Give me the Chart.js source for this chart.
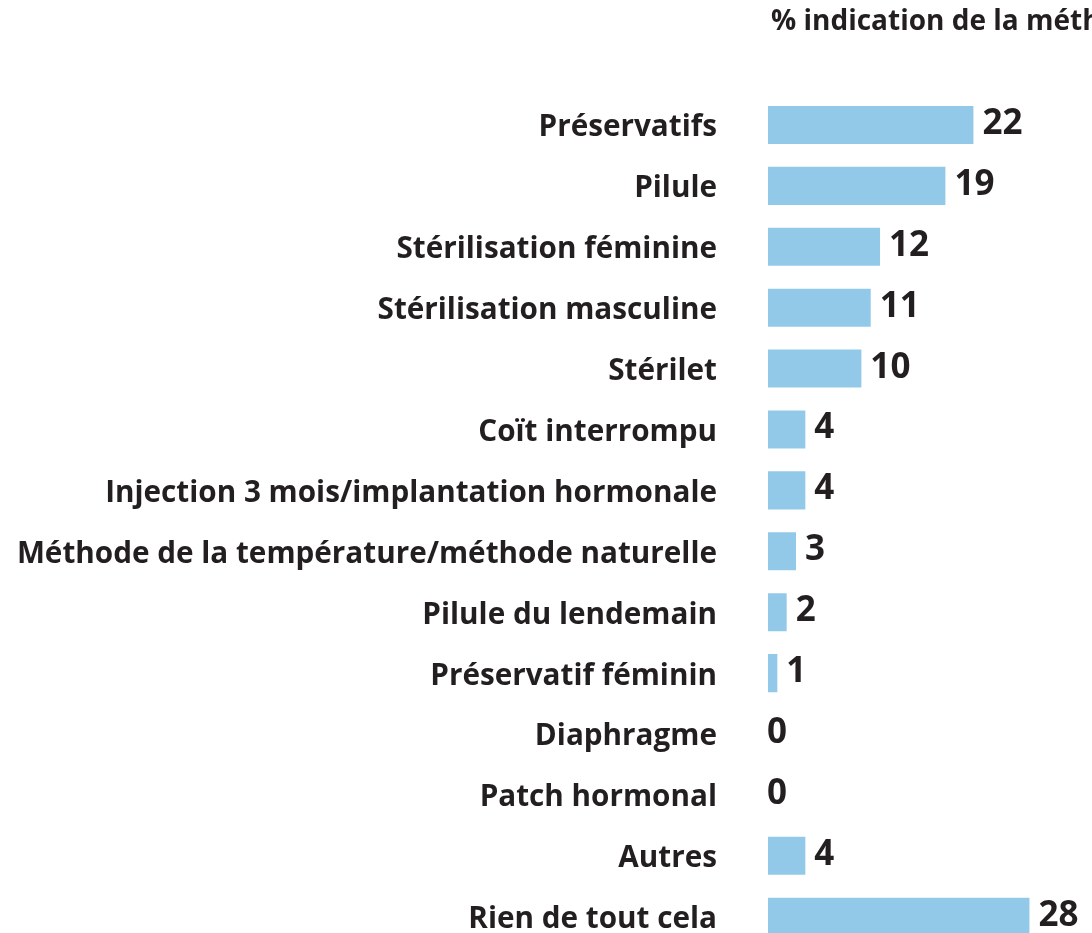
<!DOCTYPE html>
<html><head><meta charset="utf-8">
<script src="https://cdn.jsdelivr.net/npm/chart.js@4/dist/chart.umd.min.js"></script>
<style>
html,body{margin:0;padding:0;background:#fff;overflow:hidden;width:1092px;height:933px;}
#wrap{width:1092px;height:1016px;position:relative;}
</style></head>
<body>
<div id="wrap"><canvas id="c"></canvas></div>
<script>
const categories = ["Préservatifs","Pilule","Stérilisation féminine","Stérilisation masculine","Stérilet","Coït interrompu","Injection 3 mois/implantation hormonale","Méthode de la température/méthode naturelle","Pilule du lendemain","Préservatif féminin","Diaphragme","Patch hormonal","Autres","Rien de tout cela"];
const values = [22,19,12,11,10,4,4,3,2,1,0,0,4,28];
const titleText = "% indication de la méthode";

const TEXT = "#231f20";
const FONT = "'Open Sans'";

const extras = {
  id: "extras",
  afterDatasetsDraw(chart) {
    const ctx = chart.ctx;
    const meta = chart.getDatasetMeta(0);
    ctx.save();
    ctx.fillStyle = TEXT;
    ctx.font = "bold 35px " + FONT;
    ctx.textAlign = "left";
    ctx.textBaseline = "middle";
    meta.data.forEach((bar, i) => {
      const v = values[i];
      const x = bar.x + (v > 0 ? 9 : -1);
      ctx.fillText(String(v), x, bar.y - 1);
    });
    ctx.font = "bold 28px " + FONT;
    ctx.textBaseline = "middle";
    ctx.fillText(titleText, chart.chartArea.left + 3, 22);
    ctx.restore();
  }
};

new Chart(document.getElementById("c"), {
  type: "bar",
  data: {
    labels: categories,
    datasets: [{
      data: values,
      backgroundColor: "#93c9e8",
      borderWidth: 0,
      barPercentage: 0.625,
      categoryPercentage: 1
    }]
  },
  options: {
    indexAxis: "y",
    responsive: true,
    maintainAspectRatio: false,
    animation: false,
    layout: { padding: { top: 94.5, bottom: 13, left: 0, right: 0 } },
    plugins: { legend: { display: false }, tooltip: { enabled: false }, title: { display: false } },
    scales: {
      x: { display: false, min: 0, max: 34.7 },
      y: {
        offset: true,
        border: { display: false },
        grid: { display: false, drawTicks: false },
        ticks: {
          color: TEXT,
          padding: 51,
          labelOffset: 3,
          autoSkip: false,
          font: { family: FONT, size: 29.7, weight: "bold" }
        },
        afterFit(scale) { scale.width = 768; }
      }
    }
  },
  plugins: [extras]
});
</script>
</body></html>
